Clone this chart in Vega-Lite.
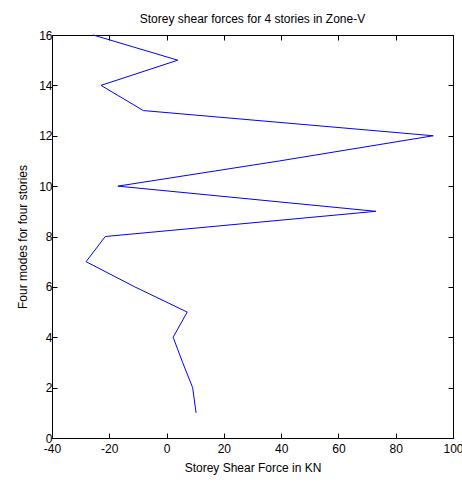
{
  "$schema": "https://vega.github.io/schema/vega-lite/v6.json",
  "autosize": "none",
  "width": 401,
  "height": 403,
  "padding": {"left": 52, "top": 35, "right": 9, "bottom": 46},
  "background": "white",
  "title": {
    "text": "Storey shear forces for 4 stories in Zone-V",
    "font": "Liberation Sans",
    "fontSize": 12,
    "fontWeight": "normal",
    "color": "black",
    "offset": 3
  },
  "config": {
    "view": {"stroke": "black", "strokeWidth": 1},
    "axis": {
      "domainColor": "black",
      "tickColor": "black",
      "labelColor": "black",
      "titleColor": "black",
      "labelFont": "Liberation Sans",
      "titleFont": "Liberation Sans",
      "labelFontSize": 12,
      "titleFontSize": 12,
      "titleFontWeight": "normal",
      "grid": false,
      "tickSize": -5
    }
  },
  "data": {
    "values": [
      {"mode": 1, "force": 10.3},
      {"mode": 2, "force": 9.1},
      {"mode": 3, "force": 5.6},
      {"mode": 4, "force": 2.3},
      {"mode": 5, "force": 7.2},
      {"mode": 6, "force": -11.1},
      {"mode": 7, "force": -28.1},
      {"mode": 8, "force": -21.4},
      {"mode": 9, "force": 73.1},
      {"mode": 10, "force": -17.0},
      {"mode": 11, "force": 39.4},
      {"mode": 12, "force": 93.1},
      {"mode": 13, "force": -8.1},
      {"mode": 14, "force": -22.9},
      {"mode": 15, "force": 3.9},
      {"mode": 16, "force": -25.6}
    ]
  },
  "resolve": {"axis": {"x": "independent", "y": "independent"}},
  "layer": [
    {
      "mark": {"type": "line", "color": "#0000FF", "strokeWidth": 1},
      "encoding": {
        "x": {
          "field": "force", "type": "quantitative",
          "scale": {"domain": [-40, 100], "nice": false, "zero": false},
          "axis": {"values": [-40, -20, 0, 20, 40, 60, 80, 100], "labelExpr": "'' + datum.value", "title": "Storey Shear Force in KN", "titlePadding": 8, "labelPadding": 10, "labelFlush": false}
        },
        "y": {
          "field": "mode", "type": "quantitative",
          "scale": {"domain": [0, 16], "nice": false, "zero": false},
          "axis": {"values": [0, 2, 4, 6, 8, 10, 12, 14, 16], "labelExpr": "'' + datum.value", "title": "Four modes for four stories", "titlePadding": 9, "labelPadding": 5, "labelFlush": false}
        },
        "order": {"field": "mode", "type": "quantitative"}
      }
    },
    {
      "mark": {"type": "line", "opacity": 0},
      "encoding": {
        "x": {
          "field": "force", "type": "quantitative",
          "axis": {"orient": "top", "values": [-40, -20, 0, 20, 40, 60, 80, 100], "labels": false, "title": null}
        },
        "y": {
          "field": "mode", "type": "quantitative",
          "axis": {"orient": "right", "values": [0, 2, 4, 6, 8, 10, 12, 14, 16], "labels": false, "title": null}
        },
        "order": {"field": "mode", "type": "quantitative"}
      }
    }
  ]
}
